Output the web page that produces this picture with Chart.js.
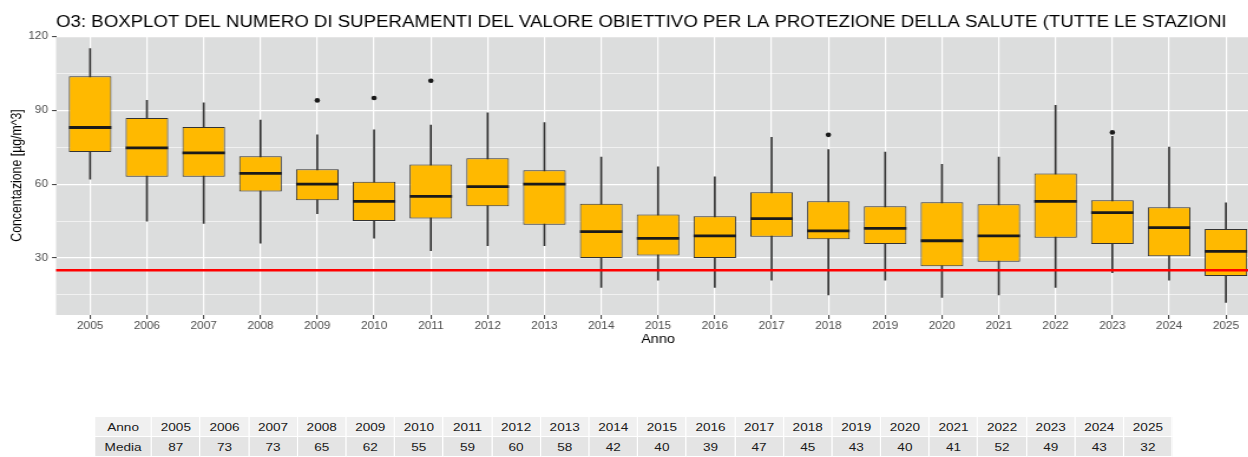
<!DOCTYPE html>
<html>
<head>
<meta charset="utf-8">
<script src="https://cdn.jsdelivr.net/npm/chart.js@4/dist/chart.umd.min.js"></script>
<style>
  body { margin: 0; background: #fff; overflow: hidden; width: 1248px; height: 457px; position: relative; }
  #grafico { position: absolute; left: 0; top: 0; width: 1260px; height: 350px; }
  #tabella {
    position: absolute; left: 94px; top: 416px;
    transform: scaleX(1.18); transform-origin: left top;
    border-collapse: collapse;
    font-family: "Liberation Sans", Arial, sans-serif; font-size: 11.5px; color: #1a1a1a;
  }
  #tabella td { border: 1px solid #fff; text-align: center; padding: 0; height: 19px; width: 40.2px; }
  #tabella td.intestazione { width: 47.3px; }
  #tabella tr.r1 td { background: #f0f0f0; }
  #tabella tr.r2 td { background: #e4e4e4; }
</style>
</head>
<body>
<canvas id="grafico" width="1068" height="350" style="width:1260px;height:350px"></canvas>
<table id="tabella"></table>
<script>
const anni = [2005, 2006, 2007, 2008, 2009, 2010, 2011, 2012, 2013, 2014, 2015,
  2016, 2017, 2018, 2019, 2020, 2021, 2022, 2023, 2024, 2025];
const baffoMin = [62, 45, 44, 36, 48, 38, 33, 35, 35, 18, 21, 18, 21, 15, 21, 14, 15, 18, 24, 21, 12];
const q1 = [73, 63, 63, 57, 53.4, 45, 46, 51, 43.5, 30, 31, 30, 38.6, 37.6, 35.7, 26.6, 28.5, 38.2, 35.7, 30.7, 22.7];
const mediana = [83, 74.7, 72.7, 64.4, 60, 53, 55, 59, 60, 40.7, 38, 39, 46, 41, 42, 37, 39, 53, 48.4, 42.3, 32.7];
const q3 = [103.8, 86.9, 83.2, 71.3, 66, 61, 68, 70.5, 65.6, 52, 47.7, 47, 56.7, 53, 51, 52.6, 51.8, 64.3, 53.4, 50.6, 41.8];
const baffoMax = [115, 94, 93, 86, 80, 82, 84, 89, 85, 71, 67, 63, 79, 74, 73, 68, 71, 92, 79.4, 75, 52.4];
const anniOutlier = [2009, 2010, 2011, 2018, 2023];
const valoriOutlier = [94, 95, 102, 80, 81];
const media = [87, 73, 73, 65, 62, 55, 59, 60, 58, 42, 40, 39, 47, 45, 43, 40, 41, 52, 49, 43, 32];
const valoreObiettivo = 25;
const tickY = [15, 30, 45, 60, 75, 90, 105, 120];
const titolo = "O3: BOXPLOT DEL NUMERO DI SUPERAMENTI DEL VALORE OBIETTIVO PER LA PROTEZIONE DELLA SALUTE (TUTTE LE STAZIONI";

const FONT = '"Liberation Sans", Arial, sans-serif';
Chart.defaults.font.family = FONT;

// tabella sotto il grafico
(function () {
  const tab = document.getElementById("tabella");
  const riga1 = "<tr class='r1'><td class='intestazione'>Anno</td>" + anni.map((a) => "<td>" + a + "</td>").join("") + "</tr>";
  const riga2 = "<tr class='r2'><td class='intestazione'>Media</td>" + media.map((m) => "<td>" + m + "</td>").join("") + "</tr>";
  tab.innerHTML = riga1 + riga2;
})();

const sfondoPannello = {
  id: "sfondoPannello",
  beforeDraw(chart) {
    const { ctx, chartArea } = chart;
    ctx.save();
    ctx.fillStyle = "#dcdddd";
    ctx.fillRect(chartArea.left, chartArea.top, chartArea.right - chartArea.left, chartArea.bottom - chartArea.top);
    ctx.fillStyle = "#000";
    ctx.font = "15.8px " + FONT;
    ctx.fillText(titolo, chartArea.left, 27);
    ctx.restore();
  },
  afterDatasetsDraw(chart) {
    const { ctx, chartArea, scales } = chart;
    const y = scales.y.getPixelForValue(valoreObiettivo);
    ctx.save();
    ctx.strokeStyle = "#ff0000";
    ctx.lineWidth = 2.6;
    ctx.beginPath();
    ctx.moveTo(chartArea.left, y);
    ctx.lineTo(chartArea.right, y);
    ctx.stroke();
    ctx.restore();
  },
};

new Chart(document.getElementById("grafico"), {
  type: "bar",
  data: {
    datasets: [
      {
        type: "bar",
        data: anni.map((a, i) => ({ x: a, y: [baffoMin[i], baffoMax[i]] })),
        backgroundColor: "#333333",
        barThickness: 1,
        grouped: false,
        order: 4,
      },
      {
        type: "bar",
        data: anni.map((a, i) => ({ x: a, y: [q1[i], q3[i]] })),
        backgroundColor: "#ffb900",
        borderColor: "#333333",
        borderWidth: 1,
        borderSkipped: false,
        barPercentage: 0.75,
        categoryPercentage: 1,
        grouped: false,
        order: 3,
      },
      {
        type: "scatter",
        data: anni.map((a, i) => ({ x: a, y: mediana[i] })),
        pointStyle: "line",
        radius: 18,
        borderWidth: 2.8,
        borderColor: "#1a1a1a",
        order: 2,
      },
      {
        type: "scatter",
        data: anniOutlier.map((a, i) => ({ x: a, y: valoriOutlier[i] })),
        pointStyle: "circle",
        radius: 2.3,
        borderWidth: 0,
        backgroundColor: "#1a1a1a",
        order: 1,
      },
    ],
  },
  options: {
    responsive: false,
    animation: false,
    events: [],
    layout: { autoPadding: false, padding: { top: 36, left: 0, right: 0, bottom: 0 } },
    plugins: { legend: { display: false }, tooltip: { enabled: false } },
    scales: {
      x: {
        type: "linear",
        min: 2004.4,
        max: 2025.6,
        offset: false,
        afterBuildTicks: (scale) => {
          scale.ticks = anni.map((a) => ({ value: a }));
        },
        afterFit: (scale) => {
          scale.height = 35;
          scale.paddingLeft = 0;
          scale.paddingRight = 0;
        },
        ticks: {
          callback: (v) => String(v),
          color: "#4d4d4d",
          font: { size: 10 },
          padding: 1,
          maxRotation: 0,
          autoSkip: false,
        },
        grid: {
          offset: false,
          color: "#ffffff",
          lineWidth: 1.2,
          tickColor: "#333333",
          tickLength: 4,
          tickWidth: 1,
        },
        border: { display: false },
        title: {
          display: true,
          text: "Anno",
          color: "#000",
          font: { size: 12.3 },
          padding: { top: 0, bottom: 2.6 },
        },
      },
      y: {
        min: 6.85,
        max: 120.15,
        afterBuildTicks: (scale) => {
          scale.ticks = tickY.map((v) => ({ value: v }));
        },
        afterFit: (scale) => {
          scale.width = 47.5;
          scale.paddingTop = 0;
          scale.paddingBottom = 0;
        },
        ticks: {
          callback: (v) => (v % 30 === 0 ? v : ""),
          color: "#4d4d4d",
          font: { size: 10 },
          padding: 3.4,
        },
        grid: {
          color: "#ffffff",
          lineWidth: (c) => (c.tick && c.tick.value % 30 === 0 ? 1.2 : 0.6),
          tickColor: (c) => (c.tick && c.tick.value % 30 === 0 ? "#333333" : "rgba(0,0,0,0)"),
          tickLength: 3.4,
          tickWidth: 1,
        },
        border: { display: false },
        title: {
          display: true,
          text: "Concentazione [µg/m^3]",
          color: "#000",
          font: { size: 12.3 },
          padding: { top: 7, bottom: 0 },
        },
      },
    },
  },
  plugins: [sfondoPannello],
});
</script>
</body>
</html>
